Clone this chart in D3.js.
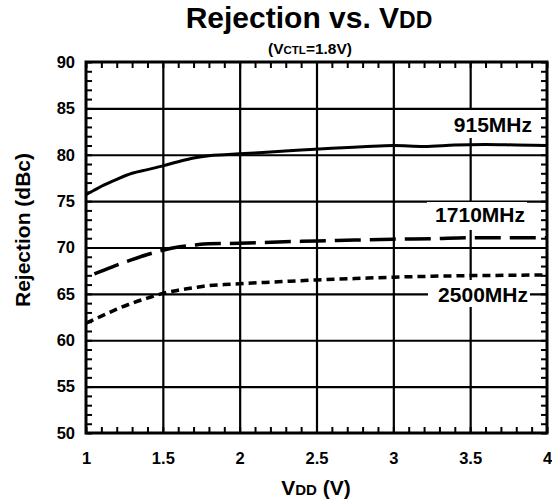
<!DOCTYPE html>
<html>
<head>
<meta charset="utf-8">
<script src="https://cdn.jsdelivr.net/npm/d3@7"></script>
<style>
  html, body { margin: 0; padding: 0; background: #fff; }
  svg { display: block; font-family: "Liberation Sans", Arial, sans-serif; font-weight: bold; }
</style>
</head>
<body>
<svg id="chart" width="552" height="504"></svg>
<script>
// Supply voltage sweep (V) and measured rejection (dBc) for each frequency
const vdd915  = [1.0, 1.05, 1.1, 1.2, 1.3, 1.4, 1.5, 1.6, 1.7, 1.8, 1.9, 2.0, 2.2, 2.4, 2.6, 2.8, 3.0, 3.2, 3.4, 3.6, 3.8, 4.0];
const rej915  = [75.7, 76.15, 76.6, 77.35, 78.0, 78.4, 78.8, 79.25, 79.65, 79.9, 80.0, 80.1, 80.3, 80.5, 80.7, 80.85, 81.0, 80.9, 81.05, 81.1, 81.05, 81.0];

const vdd1710 = [1.0, 1.1, 1.2, 1.3, 1.4, 1.5, 1.6, 1.7, 1.8, 2.0, 2.25, 2.5, 2.75, 3.0, 3.25, 3.5, 3.75, 4.0];
const rej1710 = [66.8, 67.45, 68.1, 68.7, 69.25, 69.7, 70.05, 70.25, 70.4, 70.45, 70.6, 70.7, 70.8, 70.9, 70.95, 71.05, 71.05, 71.05];

const vdd2500 = [1.0, 1.1, 1.2, 1.3, 1.4, 1.5, 1.6, 1.7, 1.8, 1.9, 2.0, 2.25, 2.5, 2.75, 3.0, 3.25, 3.5, 3.75, 4.0];
const rej2500 = [61.85, 62.6, 63.35, 64.0, 64.55, 65.05, 65.4, 65.65, 65.9, 66.0, 66.1, 66.3, 66.5, 66.65, 66.8, 66.9, 66.97, 67.0, 67.05];

const xTicks = [1, 1.5, 2, 2.5, 3, 3.5, 4];
const xTickLabels = ["1", "1.5", "2", "2.5", "3", "3.5", "4"];
const yTicks = [50, 55, 60, 65, 70, 75, 80, 85, 90];
const yTickLabels = ["50", "55", "60", "65", "70", "75", "80", "85", "90"];

const seriesNames = ["915MHz", "1710MHz", "2500MHz"];

const svg = d3.select("#chart");
const plotL = 86, plotR = 547, plotT = 62, plotB = 433;

const x = d3.scaleLinear().domain([1, 4]).range([plotL, plotR]);
const y = d3.scaleLinear().domain([50, 90]).range([plotB, plotT]);

// Minor ticks every 0.1 V and 1 dB, drawn inward on all four sides
const xMinor = d3.range(10, 41).map(d => d / 10);
const yMinor = d3.range(50, 91);
const minorLen = 6;

function minorAxis(axisGen, transform) {
  const g = svg.append("g").attr("transform", transform).call(axisGen);
  g.select(".domain").remove();
  g.selectAll("text").remove();
  g.selectAll(".tick line").attr("stroke", "#000").attr("stroke-width", 2);
  return g;
}
minorAxis(d3.axisBottom(x).tickValues(xMinor).tickSize(-minorLen).tickFormat(""), `translate(0,${plotB})`);
minorAxis(d3.axisTop(x).tickValues(xMinor).tickSize(-minorLen).tickFormat(""), `translate(0,${plotT})`);
minorAxis(d3.axisLeft(y).tickValues(yMinor).tickSize(-minorLen).tickFormat(""), `translate(${plotL},0)`);
minorAxis(d3.axisRight(y).tickValues(yMinor).tickSize(-minorLen).tickFormat(""), `translate(${plotR},0)`);

// Major gridlines
const gx = svg.append("g").attr("transform", `translate(0,${plotB})`)
  .call(d3.axisBottom(x).tickValues(xTicks.slice(1, -1)).tickSize(-(plotB - plotT)).tickFormat(""));
gx.select(".domain").remove();
gx.selectAll(".tick line").attr("stroke", "#000").attr("stroke-width", 2.2);

const gy = svg.append("g").attr("transform", `translate(${plotL},0)`)
  .call(d3.axisLeft(y).tickValues(yTicks.slice(1, -1)).tickSize(-(plotR - plotL)).tickFormat(""));
gy.select(".domain").remove();
gy.selectAll(".tick line").attr("stroke", "#000").attr("stroke-width", 2.2);

// Tick labels
const xl = svg.append("g").attr("transform", `translate(0,${plotB})`)
  .call(d3.axisBottom(x).tickValues(xTicks).tickSize(0).tickPadding(19)
    .tickFormat((d, i) => xTickLabels[i]));
xl.select(".domain").remove();
xl.selectAll("text").attr("font-size", 16.5).attr("font-weight", "bold").attr("fill", "#000")
  .attr("font-family", "Liberation Sans, Arial, sans-serif");

const yl = svg.append("g").attr("transform", `translate(${plotL},0)`)
  .call(d3.axisLeft(y).tickValues(yTicks).tickSize(0).tickPadding(11)
    .tickFormat((d, i) => yTickLabels[i]));
yl.select(".domain").remove();
yl.selectAll("text").attr("font-size", 16.5).attr("font-weight", "bold").attr("fill", "#000")
  .attr("font-family", "Liberation Sans, Arial, sans-serif");

// Curves
const line = d3.line().x(d => x(d[0])).y(d => y(d[1])).curve(d3.curveMonotoneX);
const zip = (a, b) => a.map((v, i) => [v, b[i]]);

const g = svg.append("g");
g.append("path").datum(zip(vdd915, rej915)).attr("d", line)
  .attr("fill", "none").attr("stroke", "#000").attr("stroke-width", 3);
g.append("path").datum(zip(vdd1710, rej1710)).attr("d", line)
  .attr("fill", "none").attr("stroke", "#000").attr("stroke-width", 3.5)
  .attr("stroke-dasharray", "26,9").attr("stroke-dashoffset", 26);
g.append("path").datum(zip(vdd2500, rej2500)).attr("d", line)
  .attr("fill", "none").attr("stroke", "#000").attr("stroke-width", 3.5)
  .attr("stroke-dasharray", "8,5");

// Series labels on white boxes
const labelPos = [
  { box: [445, 110, 89, 28], tx: 532, ty: 132 },
  { box: [427, 202, 100, 28], tx: 525, ty: 222 },
  { box: [428, 280, 102, 27], tx: 528, ty: 302 }
];
seriesNames.forEach((name, i) => {
  const p = labelPos[i];
  svg.append("rect").attr("x", p.box[0]).attr("y", p.box[1])
    .attr("width", p.box[2]).attr("height", p.box[3]).attr("fill", "#fff");
  svg.append("text").attr("x", p.tx).attr("y", p.ty).attr("text-anchor", "end")
    .attr("font-size", 21).attr("fill", "#000").text(name);
});

// Frame
svg.append("rect").attr("x", plotL).attr("y", plotT)
  .attr("width", plotR - plotL).attr("height", plotB - plotT)
  .attr("fill", "none").attr("stroke", "#000").attr("stroke-width", 3);

// Titles
const title = svg.append("text").attr("x", 309).attr("y", 28).attr("text-anchor", "middle")
  .attr("font-size", 30).attr("fill", "#000");
title.append("tspan").text("Rejection vs. V");
title.append("tspan").attr("font-size", 23).text("DD");

const sub = svg.append("text").attr("x", 310).attr("y", 54).attr("text-anchor", "middle")
  .attr("font-size", 15.5).attr("fill", "#000");
sub.append("tspan").text("(V");
sub.append("tspan").attr("font-size", 11.5).text("CTL");
sub.append("tspan").text("=1.8V)");

const xt = svg.append("text").attr("x", 316).attr("y", 495).attr("text-anchor", "middle")
  .attr("font-size", 21).attr("fill", "#000");
xt.append("tspan").text("V");
xt.append("tspan").attr("font-size", 15).text("DD");
xt.append("tspan").text(" (V)");

svg.append("text").attr("transform", "translate(30,230) rotate(-90)")
  .attr("text-anchor", "middle").attr("font-size", 21).attr("fill", "#000")
  .text("Rejection (dBc)");
</script>
</body>
</html>
